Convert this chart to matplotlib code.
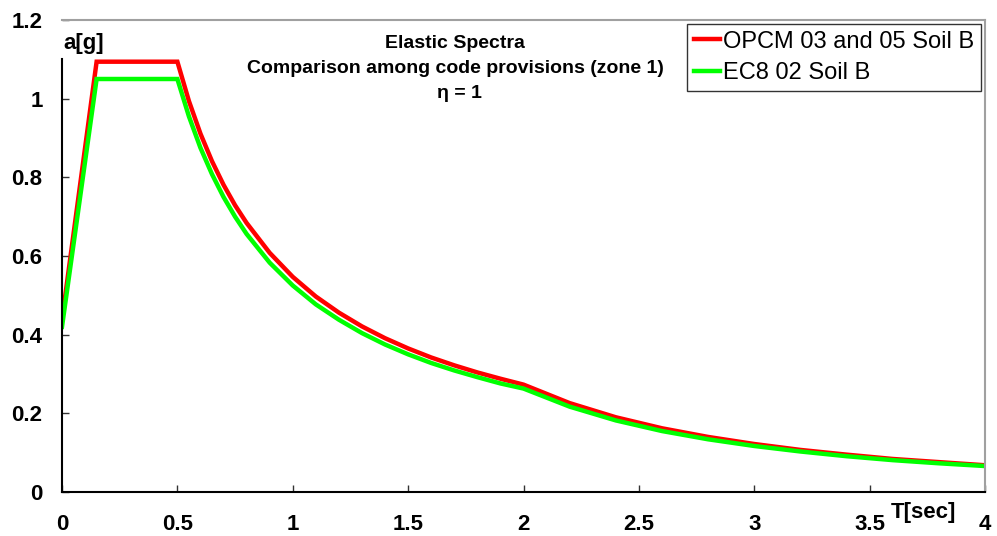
import matplotlib
matplotlib.use("Agg")
import matplotlib.pyplot as plt

plt.rcParams['font.family'] = ['Liberation Sans', 'DejaVu Sans']

# Period T [sec]
T = [0.0, 0.15, 0.5, 0.55, 0.6, 0.65, 0.7, 0.75, 0.8, 0.9, 1.0, 1.1, 1.2, 1.3, 1.4,
     1.5, 1.6, 1.7, 1.8, 1.9, 2.0, 2.2, 2.4, 2.6, 2.8, 3.0, 3.2, 3.4, 3.6, 3.8, 4.0]

# OPCM 03 and 05 Soil B  (a[g])
opcm = [0.4375, 1.094, 1.094, 0.994, 0.911, 0.841, 0.781, 0.729, 0.684, 0.608, 0.547,
        0.497, 0.456, 0.421, 0.391, 0.365, 0.342, 0.322, 0.304, 0.288, 0.273,
        0.226, 0.190, 0.162, 0.140, 0.122, 0.107, 0.095, 0.084, 0.076, 0.068]

# EC8 02 Soil B  (a[g])
ec8 = [0.420, 1.050, 1.050, 0.955, 0.875, 0.808, 0.750, 0.700, 0.656, 0.583, 0.525,
       0.477, 0.438, 0.404, 0.375, 0.350, 0.328, 0.309, 0.292, 0.276, 0.263,
       0.217, 0.182, 0.155, 0.134, 0.117, 0.103, 0.091, 0.081, 0.073, 0.066]

x_ticks = [0, 0.5, 1, 1.5, 2, 2.5, 3, 3.5, 4]
x_labels = ["0", "0.5", "1", "1.5", "2", "2.5", "3", "3.5", "4"]
y_ticks = [0, 0.2, 0.4, 0.6, 0.8, 1.0, 1.2]
y_labels = ["0", "0.2", "0.4", "0.6", "0.8", "1", "1.2"]

fig = plt.figure(figsize=(9.97, 5.36), dpi=100)
ax = fig.add_axes([62/997, 44/536, (985-62)/997, (492-20)/536])

ax.plot(T, opcm, color='#FF0000', lw=3.2, label='OPCM 03 and 05 Soil B', solid_joinstyle='miter')
ax.plot(T, ec8, color='#00FF00', lw=3.2, label='EC8 02 Soil B', solid_joinstyle='miter')

ax.set_xlim(0, 4)
ax.set_ylim(0, 1.2)
ax.set_xticks(x_ticks)
ax.set_xticklabels(x_labels, fontweight='bold', fontsize=16)
ax.set_yticks(y_ticks)
ax.set_yticklabels(y_labels, fontweight='bold', fontsize=16)
ax.tick_params(axis='both', direction='in', length=5, width=1, color='#333333')
ax.tick_params(axis='y', pad=14)
ax.tick_params(axis='x', pad=15.5)

for s in ['left', 'bottom']:
    ax.spines[s].set_color('black')
    ax.spines[s].set_linewidth(1.5)
for s in ['top', 'right']:
    ax.spines[s].set_color('#a0a0a0')
    ax.spines[s].set_linewidth(1.5)
ax.spines['left'].set_bounds(0, 1.1)

ax.text(0.001, 0.951, "a[g]", transform=ax.transAxes, fontsize=16, fontweight='bold',
        ha='left', va='center')
ax.text(0.933, -0.043, "T[sec]", transform=ax.transAxes, fontsize=16, fontweight='bold',
        ha='center', va='center', clip_on=False)

ax.text(0.426, 0.951, "Elastic Spectra", transform=ax.transAxes, fontsize=14,
        fontweight='bold', ha='center', va='center')
ax.text(0.426, 0.898, "Comparison among code provisions (zone 1)", transform=ax.transAxes,
        fontsize=14, fontweight='bold', ha='center', va='center')
ax.text(0.431, 0.845, "\u03b7 = 1", transform=ax.transAxes, fontsize=14,
        fontweight='bold', ha='center', va='center')

leg = ax.legend(loc='upper right', fontsize=17, frameon=True, fancybox=False,
                edgecolor='black', handlelength=1.1, handletextpad=0.15,
                borderaxespad=0.15, borderpad=0.3, labelspacing=0.4)
leg.get_frame().set_linewidth(1.0)

fig.savefig("out.png", dpi=100)
